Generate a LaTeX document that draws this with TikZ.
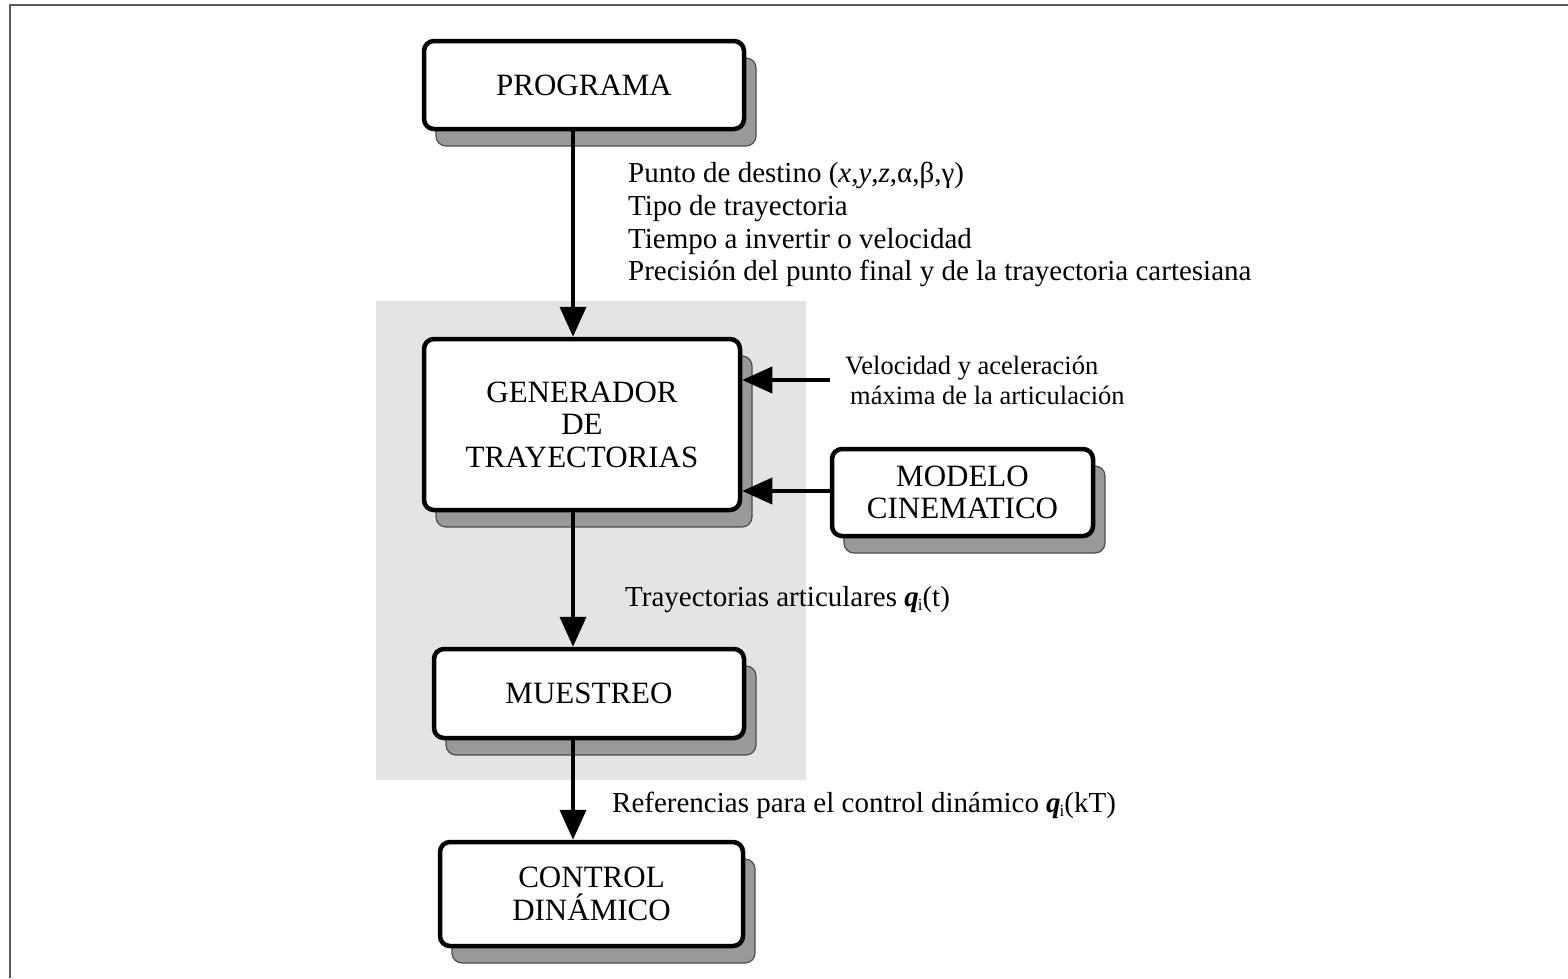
\documentclass[tikz,border=0pt]{standalone}
\usepackage{fontspec}
\setmainfont{Liberation Serif}
\usetikzlibrary{arrows.meta,shadows}
\definecolor{shadowgray}{HTML}{999999}
\definecolor{shadowedge}{HTML}{4D4D4D}
\definecolor{panelgray}{HTML}{E4E4E4}
\definecolor{framegray}{HTML}{5A5A5A}
\newcommand{\boxfont}{\fontsize{31pt}{32.5pt}\selectfont}
\newcommand{\labfont}{\fontsize{29pt}{32.7pt}\selectfont}
\newcommand{\smalllabfont}{\fontsize{26.5pt}{30pt}\selectfont}
\newcommand{\qsub}{\textbf{\textit{q}}\kern-1pt\raisebox{-4pt}{\fontsize{17pt}{17pt}\selectfont i}}
\begin{document}
\begin{tikzpicture}[x=1pt,y=-1pt,
  box/.style={draw, line width=4.5pt, rounded corners=10pt, fill=white,
    align=center, font=\boxfont, inner sep=0pt,
    general shadow={fill=shadowgray, draw=shadowedge, line width=1.2pt,
      shadow xshift=12pt, shadow yshift=-17pt}},
  arr/.style={line width=4pt, -{Triangle[length=30pt,width=26pt]}},
  lab/.style={inner sep=0pt, align=left, anchor=north west, font=\labfont}]
\useasboundingbox (0,0) rectangle (1568,978);
% panel and frame
\fill[panelgray] (376,301) rectangle (806,780);
\draw[framegray, line width=2pt] (10,978) -- (10,5) -- (1568,5);
% boxes
\node[box, minimum width=320pt, minimum height=88pt] (prog) at (584,85) {PROGRAMA};
\node[box, minimum width=316pt, minimum height=171pt] (gen) at (582,424.5) {GENERADOR\\DE\\TRAYECTORIAS};
\node[box, minimum width=261pt, minimum height=87pt] (mod) at (962.5,492.5) {MODELO\\CINEMATICO};
\node[box, minimum width=310pt, minimum height=89pt] (mue) at (589,693.5) {MUESTREO};
\node[box, minimum width=303pt, minimum height=104pt] (ctl) at (591.5,894) {CONTROL\\DINÁMICO};
% connectors
\coordinate (ax) at (573,0);
\coordinate (vin) at (830,380);
\draw[arr] (ax |- prog.south) -- (ax |- gen.north);
\draw[arr] (ax |- gen.south) -- (ax |- mue.north);
\draw[arr] (ax |- mue.south) -- (ax |- ctl.north);
\draw[arr] (vin) -- (gen.east |- vin);
\draw[arr] (mod.west |- 0,491) -- (gen.east |- 0,491);
% labels
\node[lab] (l1) at (628,162) {Punto de destino (\textit{x},\textit{y},\textit{z},α,β,γ)\\Tipo de trayectoria\\Tiempo a invertir o velocidad\\Precisión del punto final y de la trayectoria cartesiana};
\node[lab, font=\smalllabfont] (l2) at (845,356) {Velocidad y aceleración\\\hspace*{5pt}máxima de la articulación};
\node[lab] (l3) at (625,586) {Trayectorias articulares \qsub(t)};
\node[lab] (l4) at (612,792) {Referencias para el control dinámico \qsub(kT)};
\end{tikzpicture}
\end{document}
